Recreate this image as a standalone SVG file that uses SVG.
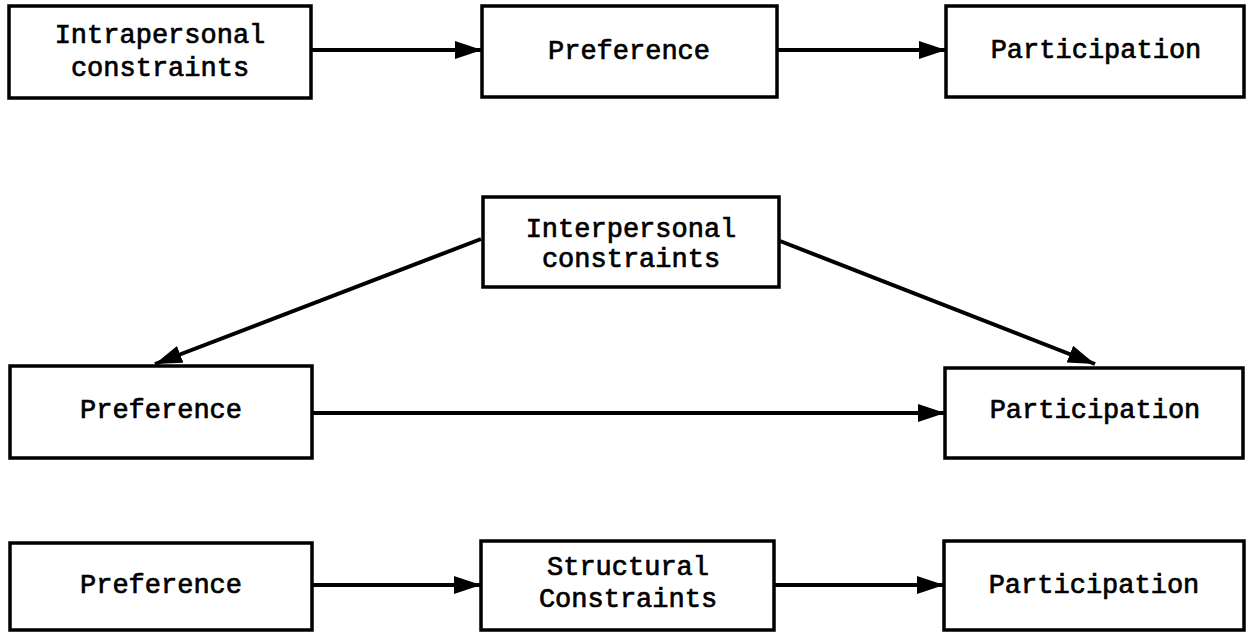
<svg xmlns="http://www.w3.org/2000/svg" width="1250" height="632" viewBox="0 0 1250 632">
<style>
.box{fill:#fff;stroke:#000;stroke-width:3.5}
.t{font-family:"Liberation Mono","Courier New",monospace;font-size:27px;font-weight:normal;text-anchor:middle;fill:#000;stroke:#000;stroke-width:0.7}
.c{stroke:#000;stroke-width:4;fill:none;marker-end:url(#ah)}
</style>
<defs>
<marker id="ah" markerUnits="userSpaceOnUse" markerWidth="30" markerHeight="20" refX="27" refY="9" orient="auto">
<path d="M0,0 L27,9 L0,18 Z" fill="#000"/>
</marker>
</defs>
<rect width="1250" height="632" fill="#fff"/>
<g id="connectors">
<line class="c" x1="311" y1="50" x2="482" y2="50"/>
<line class="c" x1="777" y1="50" x2="946" y2="50"/>
<line class="c" x1="481" y1="239" x2="155" y2="364"/>
<line class="c" x1="780" y1="241" x2="1095" y2="364"/>
<line class="c" x1="312" y1="413" x2="945" y2="413"/>
<line class="c" x1="312" y1="585" x2="481" y2="585"/>
<line class="c" x1="774" y1="585" x2="944" y2="585"/>
</g>
<g id="n1"><rect class="box" x="9" y="6" width="302" height="92"/><text class="t" x="160" y="43">Intrapersonal</text><text class="t" x="160" y="76">constraints</text></g>
<g id="n2"><rect class="box" x="482" y="6" width="295" height="91"/><text class="t" x="629" y="59">Preference</text></g>
<g id="n3"><rect class="box" x="946" y="6" width="298" height="91"/><text class="t" x="1096" y="58">Participation</text></g>
<g id="n4"><rect class="box" x="483" y="197" width="296" height="90"/><text class="t" x="631" y="237">Interpersonal</text><text class="t" x="631" y="267">constraints</text></g>
<g id="n5"><rect class="box" x="10" y="366" width="302" height="92"/><text class="t" x="161" y="418">Preference</text></g>
<g id="n6"><rect class="box" x="945" y="368" width="298" height="90"/><text class="t" x="1095" y="418">Participation</text></g>
<g id="n7"><rect class="box" x="10" y="543" width="302" height="87"/><text class="t" x="161" y="593">Preference</text></g>
<g id="n8"><rect class="box" x="481" y="541" width="293" height="89"/><text class="t" x="628" y="575">Structural</text><text class="t" x="628" y="607">Constraints</text></g>
<g id="n9"><rect class="box" x="944" y="541" width="300" height="89"/><text class="t" x="1094" y="593">Participation</text></g>
</svg>
